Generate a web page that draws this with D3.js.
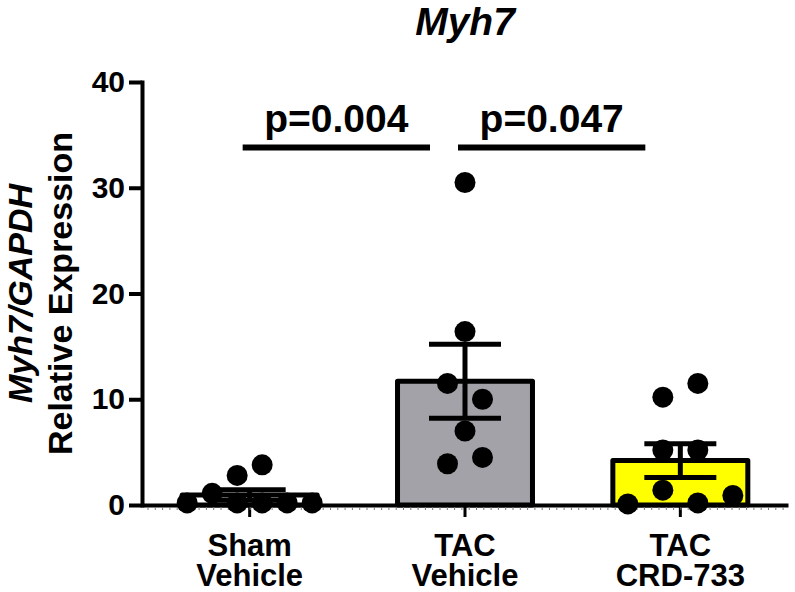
<!DOCTYPE html>
<html>
<head>
<meta charset="utf-8">
<script src="https://cdn.jsdelivr.net/npm/d3@7"></script>
<style>
  body { margin: 0; background: #fff; }
  svg text { font-family: "Liberation Sans", Arial, sans-serif; font-weight: bold; fill: #000; }
</style>
</head>
<body>
<script>
// Chart data
var groupTop = ["Sham", "TAC", "TAC"];
var groupBottom = ["Vehicle", "Vehicle", "CRD-733"];
var groupFill = ["#ffffff", "#a2a2a8", "#ffff00"];
var means = [0.95, 11.7, 4.2];
var sems = [0.5, 3.5, 1.6];

// individual points per group, with horizontal jitter slots
var shamVals = [0.2, 1.1, 0.2, 2.8, 0.2, 3.8, 0.2, 0.2];
var shamJit = [-2.5, -1.5, -0.5, -0.5, 0.5, 0.5, 1.5, 2.5];
var tacVals = [30.5, 16.4, 11.5, 10.0, 7.0, 3.9, 4.5];
var tacJit = [0, 0, -0.7, 0.7, 0, -0.7, 0.7];
var crdVals = [11.5, 10.2, 5.2, 5.2, 1.4, 0.1, 0.2, 0.9];
var crdJit = [0.7, -0.7, -0.7, 0.7, -0.7, -2.1, 0.7, 2.1];

var yTicks = [0, 10, 20, 30, 40];
var pLabels = ["p=0.004", "p=0.047"];
var pPairs = [[0, 1], [1, 2]];
var pLevel = 33.8; // height of the comparison lines, in data units

(function () {
    var width = 795, height = 592;
    var left = 142, right = 788, top = 82, bottom = 505;

    var svg = d3.select("body").append("svg")
        .attr("width", width)
        .attr("height", height);

    var x = d3.scaleBand()
        .domain(d3.range(groupTop.length))
        .range([left, right])
        .paddingInner(0.35)
        .paddingOuter(0.175);

    var y = d3.scaleLinear()
        .domain([0, 40])
        .range([bottom, top]);

    var cx = function (i) { return x(i) + x.bandwidth() / 2; };

    // Title
    svg.append("text")
        .attr("x", cx(1))
        .attr("y", 35)
        .attr("text-anchor", "middle")
        .style("font-size", "39px")
        .style("font-style", "italic")
        .text("Myh7");

    // Y axis title (two lines, rotated)
    var yt = svg.append("g").attr("transform", "translate(0," + (top + bottom) / 2 + ") rotate(-90)");
    var line1 = yt.append("text")
        .attr("x", 0).attr("y", 32)
        .attr("text-anchor", "middle")
        .style("font-size", "34px");
    line1.append("tspan").style("font-style", "italic").text("Myh7/GAPDH");
    yt.append("text")
        .attr("x", 0).attr("y", 72)
        .attr("text-anchor", "middle")
        .style("font-size", "34px")
        .text("Relative Expression");

    // Bars
    svg.selectAll(".bar")
        .data(means)
        .enter().append("rect")
        .attr("class", "bar")
        .attr("x", function (d, i) { return x(i) + 2.5; })
        .attr("width", x.bandwidth() - 5)
        .attr("y", function (d) { return y(d); })
        .attr("height", function (d) { return y(0) - y(d); })
        .attr("fill", function (d, i) { return groupFill[i]; })
        .attr("stroke", "#000")
        .attr("stroke-width", 5)
        .attr("stroke-linejoin", "round");

    // Axes
    var xAxis = svg.append("g")
        .attr("transform", "translate(0," + bottom + ")")
        .call(d3.axisBottom(x).tickSize(12).tickSizeOuter(0).tickFormat(""));
    xAxis.select(".domain").attr("stroke-width", 4);
    xAxis.selectAll(".tick line").attr("stroke-width", 3);

    // faint minor ticks along the x axis
    svg.append("g").selectAll("line")
        .data(d3.range(left + 6, right, 7.3))
        .enter().append("line")
        .attr("x1", function (d) { return d; })
        .attr("x2", function (d) { return d; })
        .attr("y1", bottom + 2)
        .attr("y2", bottom + 5)
        .attr("stroke", "#777")
        .attr("stroke-width", 1);

    var yAxis = svg.append("g")
        .attr("transform", "translate(" + left + ",0)")
        .call(d3.axisLeft(y).tickValues(yTicks).tickSize(13).tickSizeOuter(0).tickPadding(4));
    yAxis.select(".domain").attr("stroke-width", 4).attr("stroke-linecap", "square");
    yAxis.selectAll(".tick line").attr("stroke-width", 4);
    yAxis.selectAll(".tick text")
        .style("font-size", "30px")
        .attr("fill", "#000");

    // Group labels under the x axis, two lines in one text element
    var lab = svg.append("g").selectAll("text")
        .data(groupTop)
        .enter().append("text")
        .attr("text-anchor", "middle")
        .style("font-size", "31px");
    lab.append("tspan")
        .attr("x", function (d, i) { return cx(i); })
        .attr("y", 556)
        .text(function (d) { return d; });
    lab.append("tspan")
        .attr("x", function (d, i) { return cx(i); })
        .attr("y", 586)
        .text(function (d, i) { return groupBottom[i]; });

    // Points
    var allVals = [shamVals, tacVals, crdVals];
    var allJit = [shamJit, tacJit, crdJit];
    allVals.forEach(function (vals, g) {
        svg.append("g").selectAll("circle")
            .data(vals)
            .enter().append("circle")
            .attr("cx", function (d, i) { return cx(g) + allJit[g][i] * 25; })
            .attr("cy", function (d) { return y(d); })
            .attr("r", 10.5)
            .attr("fill", "#000");
    });

    // Error bars (mean +/- SEM)
    var capHalf = 36;
    var err = svg.append("g").selectAll("g")
        .data(means)
        .enter().append("g")
        .attr("stroke", "#000")
        .attr("stroke-width", 5);
    err.append("line")
        .attr("x1", function (d, i) { return cx(i); })
        .attr("x2", function (d, i) { return cx(i); })
        .attr("y1", function (d, i) { return y(d - sems[i]); })
        .attr("y2", function (d, i) { return y(d + sems[i]); });
    err.append("line")
        .attr("x1", function (d, i) { return cx(i) - capHalf; })
        .attr("x2", function (d, i) { return cx(i) + capHalf; })
        .attr("y1", function (d, i) { return y(d + sems[i]); })
        .attr("y2", function (d, i) { return y(d + sems[i]); });
    err.append("line")
        .attr("x1", function (d, i) { return cx(i) - capHalf; })
        .attr("x2", function (d, i) { return cx(i) + capHalf; })
        .attr("y1", function (d, i) { return y(Math.max(0, d - sems[i])); })
        .attr("y2", function (d, i) { return y(Math.max(0, d - sems[i])); });

    // Significance lines and p-values
    var sig = svg.append("g").selectAll("g")
        .data(pPairs)
        .enter().append("g");
    sig.append("line")
        .attr("x1", function (d) { return cx(d[0]) - 7; })
        .attr("x2", function (d) { return cx(d[1]) - 35; })
        .attr("y1", y(pLevel))
        .attr("y2", y(pLevel))
        .attr("stroke", "#000")
        .attr("stroke-width", 6);
    sig.append("text")
        .attr("x", function (d) { return (cx(d[0]) - 7 + cx(d[1]) - 35) / 2; })
        .attr("y", y(pLevel) - 16)
        .attr("text-anchor", "middle")
        .style("font-size", "39px")
        .text(function (d, i) { return pLabels[i]; });
})();
</script>
</body>
</html>
